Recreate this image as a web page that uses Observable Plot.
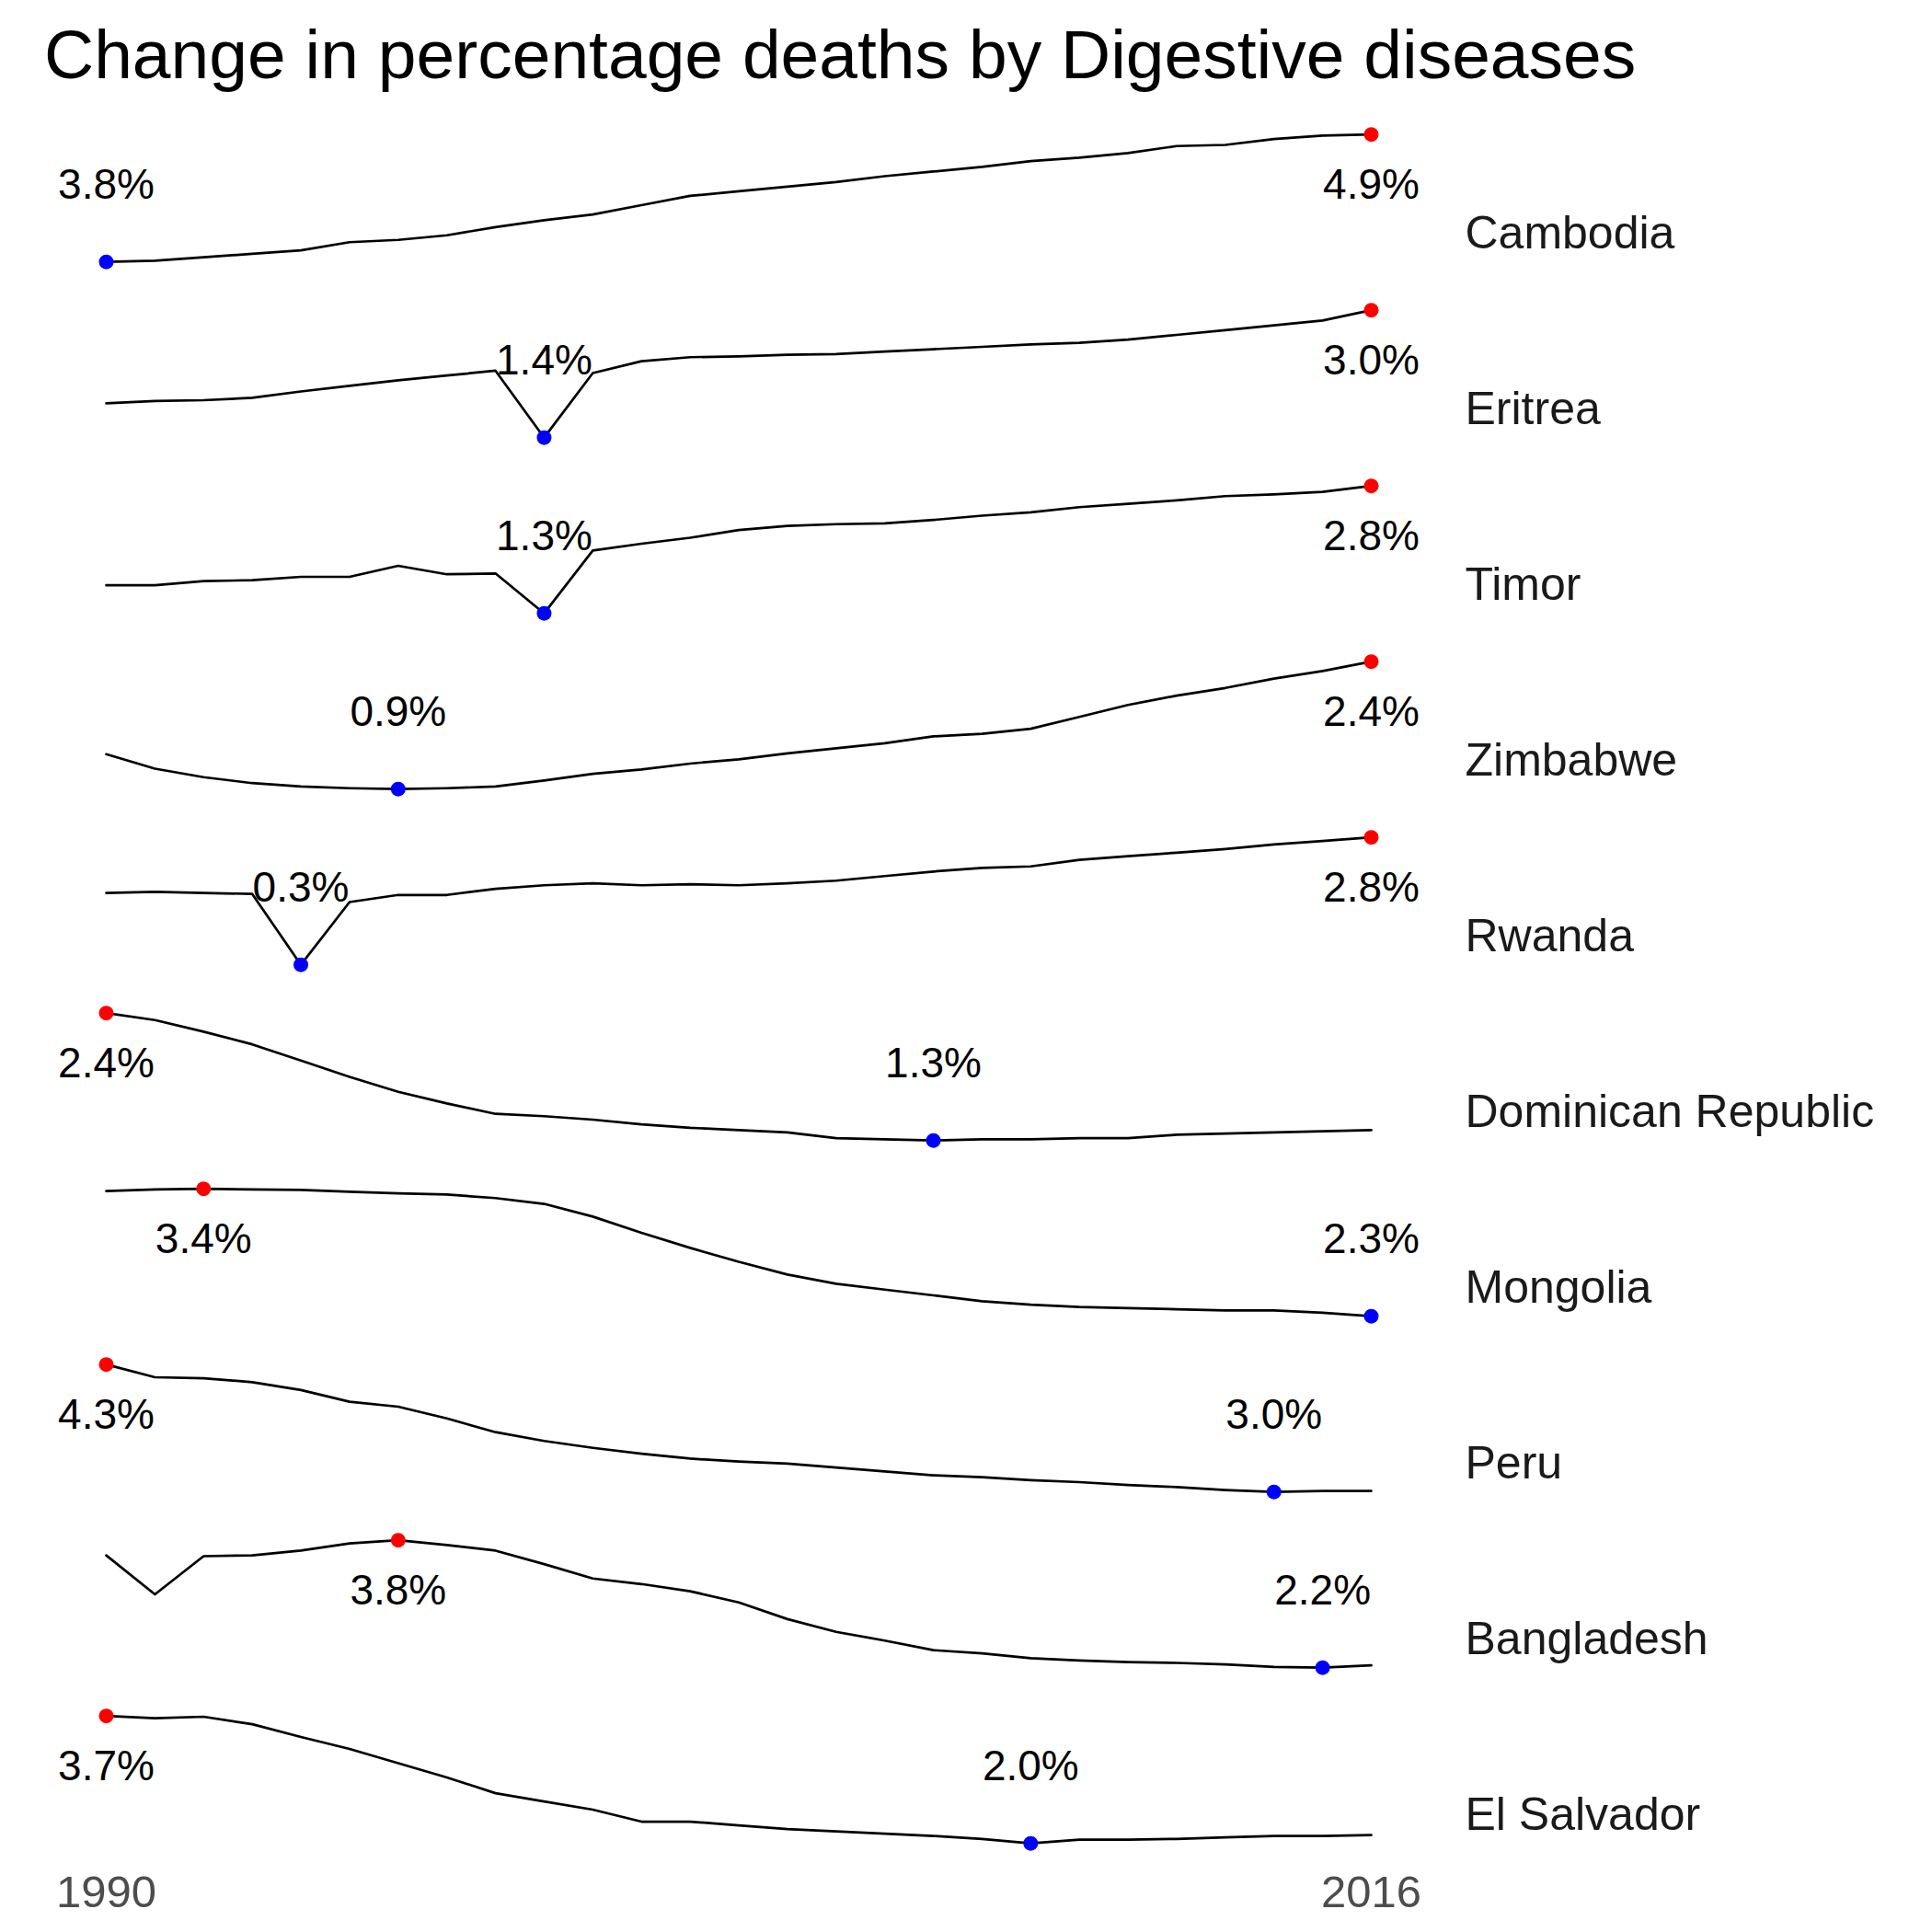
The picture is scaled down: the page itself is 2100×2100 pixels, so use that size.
<!DOCTYPE html>
<html>
<head>
<meta charset="utf-8">
<script src="https://cdn.jsdelivr.net/npm/d3@7"></script>
<script src="https://cdn.jsdelivr.net/npm/@observablehq/plot@0.6"></script>
<style>
  body { margin: 0; background: white; font-family: "Liberation Sans", Arial, sans-serif; }
  h1 { margin: 0; height: 108px; line-height: 118px; padding-left: 48px; font-weight: normal; font-size: 75px; color: #000; white-space: nowrap; }
</style>
</head>
<body>
<h1>Change in percentage deaths by Digestive diseases</h1>
<div id="chart"></div>
<script>
const years = d3.range(1990, 2017)
const countries = ["Cambodia", "Eritrea", "Timor", "Zimbabwe", "Rwanda", "Dominican Republic", "Mongolia", "Peru", "Bangladesh", "El Salvador"]

const cambodia = [3.80, 3.81, 3.84, 3.87, 3.90, 3.97, 3.99, 4.03, 4.10, 4.16, 4.21, 4.29, 4.37, 4.41, 4.45, 4.49, 4.54, 4.58, 4.62, 4.67, 4.70, 4.74, 4.80, 4.81, 4.86, 4.89, 4.90]
const eritrea = [1.83, 1.86, 1.87, 1.90, 1.98, 2.05, 2.12, 2.18, 2.24, 1.40, 2.21, 2.36, 2.41, 2.42, 2.44, 2.45, 2.48, 2.51, 2.54, 2.57, 2.59, 2.63, 2.69, 2.75, 2.81, 2.87, 3.00]
const timor = [1.63, 1.63, 1.68, 1.69, 1.73, 1.73, 1.86, 1.76, 1.77, 1.30, 2.04, 2.12, 2.19, 2.28, 2.33, 2.35, 2.36, 2.40, 2.45, 2.49, 2.55, 2.59, 2.63, 2.68, 2.70, 2.73, 2.80]
const zimbabwe = [1.31, 1.14, 1.04, 0.97, 0.93, 0.91, 0.90, 0.91, 0.93, 1.00, 1.08, 1.13, 1.20, 1.25, 1.32, 1.38, 1.44, 1.52, 1.55, 1.61, 1.75, 1.89, 2.00, 2.09, 2.20, 2.29, 2.40]
const rwanda = [1.71, 1.73, 1.71, 1.69, 0.30, 1.53, 1.67, 1.67, 1.79, 1.86, 1.90, 1.86, 1.88, 1.86, 1.90, 1.95, 2.04, 2.13, 2.20, 2.23, 2.36, 2.43, 2.50, 2.57, 2.66, 2.73, 2.80]
const dominican = [2.40, 2.34, 2.24, 2.13, 1.99, 1.85, 1.72, 1.62, 1.53, 1.51, 1.48, 1.44, 1.41, 1.39, 1.37, 1.32, 1.31, 1.30, 1.31, 1.31, 1.32, 1.32, 1.35, 1.36, 1.37, 1.38, 1.39]
const mongolia = [3.38, 3.395, 3.40, 3.395, 3.39, 3.375, 3.36, 3.35, 3.32, 3.27, 3.16, 3.02, 2.89, 2.77, 2.66, 2.58, 2.53, 2.48, 2.43, 2.40, 2.38, 2.37, 2.36, 2.35, 2.35, 2.33, 2.30]
const peru = [4.30, 4.17, 4.16, 4.12, 4.04, 3.92, 3.87, 3.75, 3.61, 3.52, 3.45, 3.39, 3.34, 3.31, 3.29, 3.25, 3.21, 3.17, 3.15, 3.12, 3.10, 3.07, 3.05, 3.02, 3.00, 3.01, 3.01]
const bangladesh = [3.61, 3.12, 3.60, 3.61, 3.67, 3.76, 3.80, 3.74, 3.67, 3.50, 3.32, 3.25, 3.16, 3.02, 2.81, 2.65, 2.54, 2.42, 2.38, 2.32, 2.29, 2.27, 2.26, 2.24, 2.21, 2.20, 2.23]
const elSalvador = [3.70, 3.67, 3.69, 3.59, 3.42, 3.26, 3.07, 2.88, 2.67, 2.56, 2.45, 2.29, 2.29, 2.24, 2.19, 2.16, 2.13, 2.10, 2.06, 2.00, 2.05, 2.05, 2.06, 2.08, 2.10, 2.10, 2.11]

const series = [cambodia, eritrea, timor, zimbabwe, rwanda, dominican, mongolia, peru, bangladesh, elSalvador]

// each panel has its own (free) y scale: rescale to 0..1 per country
let rows = []
let extremes = []
countries.forEach((c, i) => {
  const vals = series[i]
  const lo = d3.min(vals), hi = d3.max(vals)
  vals.forEach((v, j) => rows.push({country: c, year: years[j], value: v, t: (v - lo) / (hi - lo)}))
  const jmin = d3.minIndex(vals), jmax = d3.maxIndex(vals)
  extremes.push({country: c, year: years[jmin], value: lo, t: 0, kind: "min"})
  extremes.push({country: c, year: years[jmax], value: hi, t: 1, kind: "max"})
})

let chart = Plot.plot({
  width: 2100,
  height: 1992,
  marginLeft: 115,
  marginRight: 602 + 8,
  marginTop: 0,
  marginBottom: 82,
  x: {domain: [1990, 2016], ticks: [1990, 2016], tickFormat: "d", tickSize: 0, tickPadding: 20, label: null},
  y: {domain: [-0.107, 1.272], axis: null},
  fy: {domain: countries, axis: null, padding: 0},
  style: {fontFamily: "Liberation Sans, Arial, sans-serif", fontSize: "49px", color: "#4d4d4d", background: "white"},
  marks: [
    Plot.line(rows, {x: "year", y: "t", fy: "country", stroke: "black", strokeWidth: 2.7}),
    Plot.dot(extremes, {x: "year", y: "t", fy: "country", r: 8, fill: d => d.kind == "min" ? "blue" : "red"}),
    Plot.text(extremes, {x: "year", y: 0.6, fy: "country", text: d => d.value.toFixed(1) + "%", fill: "black", fontSize: 46}),
    Plot.text(countries, {fy: d => d, x: 2016, y: 0.223, dx: 102, text: d => d, textAnchor: "start", fill: "#1a1a1a", fontSize: 50})
  ]
})
d3.select('#chart').append(() => chart)
</script>
</body>
</html>
